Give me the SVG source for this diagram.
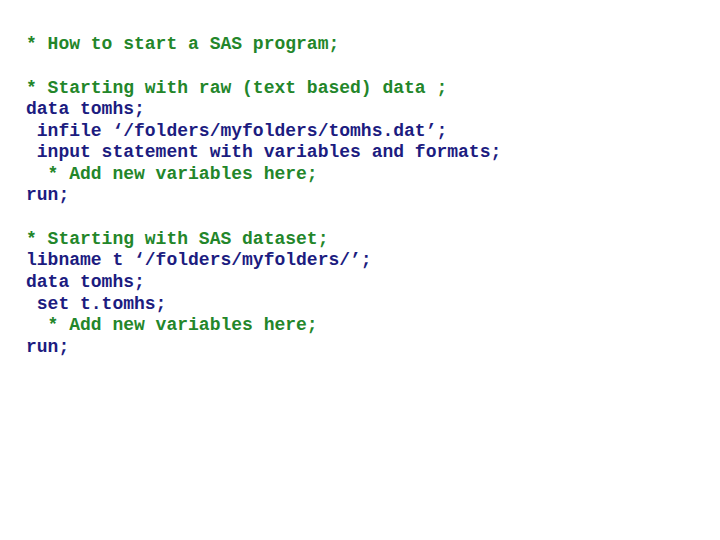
<svg xmlns="http://www.w3.org/2000/svg" width="720" height="540" viewBox="0 0 720 540">
<style>
text{font-family:"Liberation Mono","Courier New",monospace;font-size:18px;font-weight:bold;white-space:pre}
.c{fill:#23862a}.k{fill:#1c1c80}
</style>
<rect width="720" height="540" fill="#fff"/>
<text x="26" y="49" class="c">* How to start a SAS program;</text>
<text x="26" y="93" class="c">* Starting with raw (text based) data ;</text>
<text x="26" y="114" class="k">data tomhs;</text>
<text x="26" y="136" class="k"> infile ‘/folders/myfolders/tomhs.dat’;</text>
<text x="26" y="157" class="k"> input statement with variables and formats;</text>
<text x="26" y="179" class="c">  * Add new variables here;</text>
<text x="26" y="200" class="k">run;</text>
<text x="26" y="244" class="c">* Starting with SAS dataset;</text>
<text x="26" y="265" class="k">libname t ‘/folders/myfolders/’;</text>
<text x="26" y="287" class="k">data tomhs;</text>
<text x="26" y="309" class="k"> set t.tomhs;</text>
<text x="26" y="330" class="c">  * Add new variables here;</text>
<text x="26" y="352" class="k">run;</text>
</svg>
